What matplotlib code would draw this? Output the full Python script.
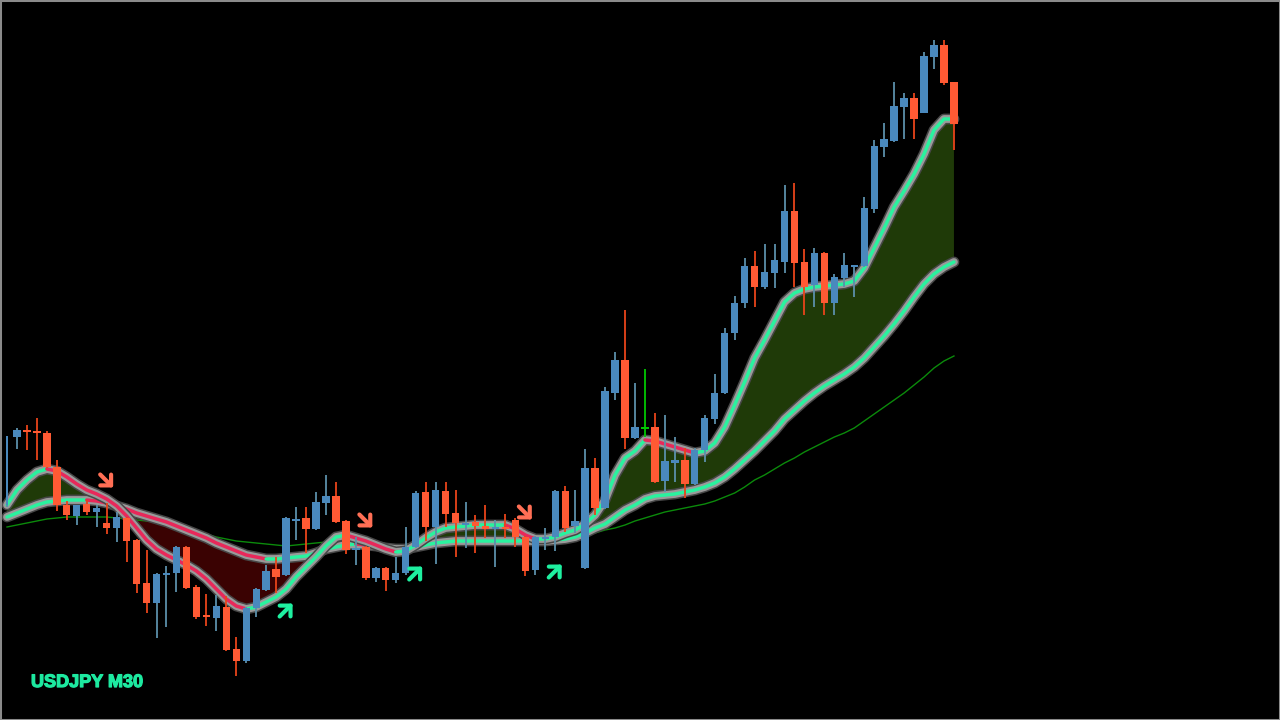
import matplotlib
matplotlib.use("Agg")
import matplotlib.pyplot as plt
import matplotlib.patheffects as pe
import numpy as np
from matplotlib.patches import Rectangle

# ---------------- data (price in chart points) ----------------
symbol_label = "USDJPY M30"

opens = [215, 283, 290, 289, 287, 253, 215, 204, 216, 208,
         197, 192, 202, 180, 137, 117, 146, 147, 173, 133,
         105, 102, 113, 71, 59, 112, 130, 151, 145, 200,
         202, 191, 217, 224, 199, 171, 173, 142, 152, 140,
         147, 173, 228, 193, 229, 207, 196, 198, 194, 192,
         193, 200, 183, 150, 182, 183, 229, 194, 152, 252,
         212, 327, 360, 282, 292, 293, 239, 257, 260, 236,
         270, 301, 327, 387, 417, 454, 433, 447, 458, 509,
         458, 435, 467, 417, 442, 454, 454, 511, 573, 579,
         613, 622, 607, 663, 675, 638]

highs = [284, 292, 295, 302, 289, 260, 219, 215, 220, 215,
         217, 208, 203, 181, 170, 147, 154, 174, 174, 135,
         126, 125, 124, 83, 113, 132, 155, 163, 203, 213,
         213, 228, 245, 238, 200, 183, 174, 153, 153, 163,
         193, 229, 238, 238, 238, 230, 218, 205, 215, 200,
         206, 202, 184, 184, 192, 230, 234, 230, 271, 262,
         333, 368, 410, 337, 351, 307, 305, 283, 272, 272,
         305, 346, 392, 424, 462, 469, 476, 476, 535, 537,
         471, 472, 468, 446, 467, 455, 523, 580, 597, 638,
         627, 627, 668, 680, 680, 638]

lows = [213, 271, 270, 260, 252, 209, 200, 195, 205, 193,
        186, 178, 158, 127, 107, 82, 93, 128, 131, 101,
        94, 89, 69, 44, 57, 103, 129, 127, 144, 180,
        167, 190, 205, 197, 166, 155, 140, 138, 129, 137,
        145, 172, 179, 156, 193, 163, 172, 167, 182, 153,
        182, 173, 144, 145, 170, 169, 188, 187, 151, 205,
        211, 320, 271, 281, 283, 237, 228, 238, 222, 235,
        258, 296, 326, 380, 412, 413, 431, 432, 447, 433,
        405, 413, 405, 405, 433, 423, 453, 507, 563, 578,
        581, 581, 607, 651, 635, 570]

closes = [284, 290, 288, 287, 253, 215, 205, 215, 208, 212,
          192, 203, 179, 136, 117, 146, 147, 173, 132, 103,
          103, 114, 70, 59, 112, 131, 149, 143, 202, 201,
          191, 218, 224, 198, 170, 172, 142, 152, 140, 147,
          173, 227, 193, 230, 206, 197, 197, 194, 191, 193,
          192, 183, 149, 183, 183, 229, 192, 199, 252, 212,
          329, 360, 282, 293, 292, 238, 259, 260, 236, 270,
          302, 327, 387, 417, 454, 433, 448, 460, 509, 457,
          433, 467, 417, 443, 455, 455, 512, 574, 581, 614,
          622, 601, 664, 675, 637, 596]

fast_ma = [215, 230, 240, 248, 251, 249, 243, 236, 230, 226,
           221, 214, 204, 192, 180, 171, 165, 160, 155, 149,
           141, 131, 121, 114, 111, 113, 118, 123, 131, 143,
           153, 163, 174, 183, 185, 182, 179, 175, 171, 168,
           169, 175, 182, 188, 192, 193, 194, 195, 195, 195,
           195, 191, 185, 181, 181, 183, 187, 190, 196, 205,
           220, 245, 262, 269, 280, 279, 276, 273, 270, 267,
           269, 277, 293, 315, 338, 362, 380, 399, 418, 427,
           431, 433, 434, 435, 436, 439, 452, 472, 492, 513,
           529, 546, 566, 590, 601, 601]

slow_ma = [203, 207, 211, 215, 218, 219, 220, 220, 220, 219,
           217, 214, 211, 207, 204, 201, 198, 194, 190, 186,
           182, 177, 173, 169, 165, 163, 161, 161, 162, 163,
           164, 167, 171, 173, 175, 176, 175, 174, 172, 171,
           171, 173, 175, 177, 178, 179, 179, 179, 179, 179,
           179, 179, 179, 179, 179, 180, 181, 183, 187, 192,
           196, 203, 210, 215, 221, 224, 225, 226, 228, 230,
           233, 237, 243, 251, 260, 269, 279, 289, 301, 310,
           319, 327, 334, 340, 346, 353, 362, 373, 384, 396,
           409, 423, 436, 446, 453, 458]

trend_ma = [193, 195, 197, 199, 201, 202, 203, 203, 203, 203,
            203, 202, 201, 200, 199, 198, 196, 193, 191, 188,
            186, 183, 181, 179, 178, 177, 176, 175, 174, 175,
            176, 177, 178, 178, 177, 177, 176, 175, 174, 174,
            174, 175, 176, 177, 178, 178, 179, 179, 179, 179,
            179, 179, 179, 179, 180, 181, 182, 183, 185, 187,
            190, 192, 195, 199, 202, 205, 208, 210, 212, 214,
            216, 219, 223, 227, 233, 240, 245, 251, 257, 262,
            268, 273, 278, 283, 287, 292, 299, 306, 313, 320,
            327, 335, 343, 352, 359, 364]

sell_signal_bars = [10, 36, 52]
sell_signal_levels = [239, 199, 207]
buy_signal_bars = [28, 41, 55]
buy_signal_levels = [110, 147, 149]

# ---------------- style ----------------
BG = "black"
UP_BODY, UP_WICK = "#4a89bd", "#5b90aa"
DN_BODY, DN_WICK = "#ff5a34", "#e8441a"
DOJI = "#00c800"
LINE_UP, LINE_DN = "#2af29e", "#e8285a"
FILL_UP, FILL_DN = "#1f3a08", "#3a0202"
TREND = "#0b8a0b"
SELL_C, BUY_C = "#ff6f55", "#1ef0a0"

fig = plt.figure(figsize=(12.8, 7.2), dpi=100, facecolor=BG)
ax = fig.add_axes([0, 0, 1, 1])
ax.set_facecolor(BG)
n = len(opens)
x = np.arange(n)
px0, step = 7.0, 9.968
ax.set_xlim(-px0 / step, (1280 - px0) / step)
ax.set_ylim(0, 720)
ax.axis("off")

F = np.array(fast_ma, float)
S = np.array(slow_ma, float)
ax.fill_between(x, F, S, where=F >= S, interpolate=True, color=FILL_UP, lw=0, zorder=1)
ax.fill_between(x, F, S, where=F <= S, interpolate=True, color=FILL_DN, lw=0, zorder=1)
ax.plot(x, trend_ma, color=TREND, lw=1.0, zorder=2)


def glow_line(vals, z):
    v = np.asarray(vals, float)
    kw = dict(solid_capstyle="round", solid_joinstyle="round")
    ax.plot(x, v, color="#474747", lw=7.8, zorder=z, **kw)
    ax.plot(x, v, color="#9a9a9a", lw=5.6, zorder=z + 0.01, **kw)
    up = np.diff(v) >= 0
    start = 0
    for k in range(1, len(up) + 1):
        if k == len(up) or up[k] != up[start]:
            seg = slice(start, k + 1)
            ax.plot(x[seg], v[seg], color=LINE_UP if up[start] else LINE_DN,
                    lw=2.5, zorder=z + 0.02, **kw)
            start = k


glow_line(slow_ma, 3)
glow_line(fast_ma, 3.5)

for i in range(n):
    o, h, l, c = opens[i], highs[i], lows[i], closes[i]
    if c > o:
        body, wick = UP_BODY, UP_WICK
    elif c < o:
        body, wick = DN_BODY, DN_WICK
    else:
        body, wick = DOJI, DOJI
    ax.vlines(i, l, h, color=wick, lw=1.3, zorder=5)
    lo, hi = min(o, c), max(o, c)
    if hi - lo < 2:
        mid = (hi + lo) / 2
        lo, hi = mid - 1, mid + 1
    w = 0.3 if i == 0 else 0.74
    ax.bar(i, hi - lo, width=w, bottom=lo, color=body, edgecolor=body, lw=0, zorder=6)

arrow_kw = dict(arrowstyle="->,head_length=0.55,head_width=0.55", lw=3.0,
                shrinkA=0, shrinkB=0)
for b, p in zip(sell_signal_bars, sell_signal_levels):
    ax.annotate("", xy=(b + 0.65, p - 6.5), xytext=(b - 0.65, p + 6.5),
                arrowprops=dict(color=SELL_C, **arrow_kw), zorder=7)
for b, p in zip(buy_signal_bars, buy_signal_levels):
    ax.annotate("", xy=(b + 0.65, p + 6.5), xytext=(b - 0.65, p - 6.5),
                arrowprops=dict(color=BUY_C, **arrow_kw), zorder=7)

fig.text(31 / 1280, 1 - 687 / 720, symbol_label, color="#1de9a0", fontsize=13,
         fontweight="bold", family=["Liberation Sans", "DejaVu Sans"],
         ha="left", va="baseline",
         path_effects=[pe.withStroke(linewidth=0.9, foreground="#1de9a0")])

fig.patches.append(Rectangle((0, 0), 1, 1, transform=fig.transFigure, fill=False,
                             edgecolor="#8a8a8a", lw=2.2, zorder=10))

fig.savefig("out.png", dpi=100, facecolor=BG)
